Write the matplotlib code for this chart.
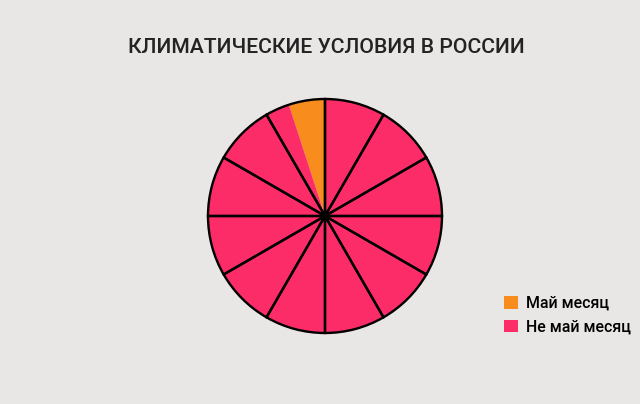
import matplotlib.pyplot as plt
from matplotlib.patches import Patch, Circle

# Данные
months = ['янв', 'фев', 'мар', 'апр', 'май', 'июн',
          'июл', 'авг', 'сен', 'окт', 'ноя', 'дек']
month_share = [1] * 12
labels = ['Май месяц', 'Не май месяц']
# доля "майского" куска (в месяцах) и остальное
split_values = [0.6, 12 - 0.6]
colors = ['#f88c1c', '#fb2c68']

bg = '#e8e7e5'
fig = plt.figure(figsize=(6.4, 4.04), dpi=100, facecolor=bg)

# Ось под круг: центр (325, 216), радиус ~117 px
cx, cy, r = 325, 216, 117
ax = fig.add_axes([(cx - r) / 640, (404 - cy - r) / 404, 2 * r / 640, 2 * r / 404])
ax.set_facecolor(bg)

# Цветная заливка
ax.pie(split_values, colors=colors, startangle=90, counterclock=True,
       radius=1, wedgeprops=dict(linewidth=0))
# Границы месяцев
ax.pie(month_share, colors=['none'] * 12, startangle=90, counterclock=True,
       radius=1, wedgeprops=dict(edgecolor='black', linewidth=1.7, fill=False))
ax.add_patch(Circle((0, 0), 0.04, color='black', zorder=5))
ax.set_xlim(-1.0, 1.0)
ax.set_ylim(-1.0, 1.0)
ax.set_aspect('equal')
ax.axis('off')

fig.text(0.51, 0.883, 'КЛИМАТИЧЕСКИЕ УСЛОВИЯ В РОССИИ', ha='center', va='center',
         fontsize=15.2, color='#232323', family='Roboto', fontweight='medium')

handles = [Patch(facecolor=c, edgecolor='none', label=l) for c, l in zip(colors, labels)]
fig.legend(handles=handles, loc='center left', bbox_to_anchor=(0.765, 0.22),
           frameon=False, handlelength=0.85, handleheight=0.85,
           handletextpad=0.55, labelspacing=0.55,
           prop=dict(family='Roboto', size=11.5, weight='medium'))

plt.savefig('out.png', dpi=100, facecolor=bg)
